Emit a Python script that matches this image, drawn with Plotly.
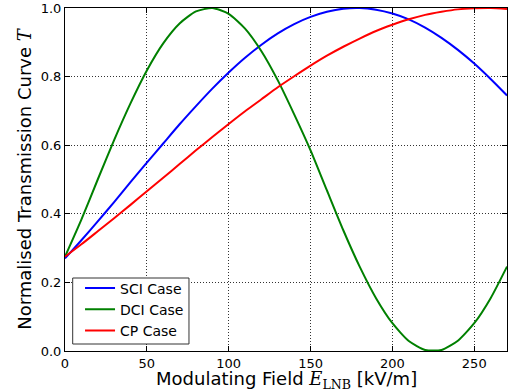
import plotly.graph_objects as go

field = [0, 10, 20, 30, 40, 50, 60, 70, 80, 90, 100, 110, 120, 130, 140,
         150, 160, 170, 180, 190, 200, 210, 220, 230, 240, 250, 260, 270]

sci = [0.270, 0.323, 0.378, 0.434, 0.492, 0.549, 0.605, 0.661, 0.714, 0.765,
       0.812, 0.855, 0.893, 0.926, 0.953, 0.974, 0.989, 0.998, 1.000, 0.995,
       0.984, 0.967, 0.943, 0.913, 0.878, 0.838, 0.793, 0.745]

dci = [0.275, 0.383, 0.500, 0.615, 0.722, 0.818, 0.897, 0.955, 0.990, 1.000,
       0.983, 0.940, 0.874, 0.789, 0.690, 0.585, 0.468, 0.352, 0.246, 0.154,
       0.081, 0.029, 0.003, 0.003, 0.030, 0.081, 0.154, 0.246]

cp = [0.275, 0.311, 0.349, 0.387, 0.426, 0.466, 0.505, 0.545, 0.585, 0.624,
      0.662, 0.699, 0.734, 0.769, 0.801, 0.832, 0.861, 0.887, 0.911, 0.933,
      0.951, 0.967, 0.980, 0.989, 0.996, 0.999, 1.000, 0.997]

series = [("SCI Case", sci, "#0000ff"), ("DCI Case", dci, "#008000"), ("CP Case", cp, "#ff0000")]

x_ticks = [0, 50, 100, 150, 200, 250]
y_ticks = [0.0, 0.2, 0.4, 0.6, 0.8, 1.0]

x_title = ("Modulating Field <span style=\"font-family:'DejaVu Serif';font-style:italic\">E</span>"
           "<sub><span style=\"font-family:'DejaVu Serif'\">LNB</span></sub> [kV/m]")
y_title = ("Normalised Transmission Curve "
           "<span style=\"font-family:'DejaVu Serif';font-style:italic\">T</span>")

fig = go.Figure()
for name, vals, col in series:
    fig.add_trace(go.Scatter(x=field, y=vals, mode="lines", name=name,
                             line=dict(color=col, width=2, shape="spline", smoothing=0.6)))

axis_common = dict(showline=True, linecolor="black", linewidth=1, mirror="allticks",
                   ticks="inside", ticklen=5, tickcolor="black",
                   showgrid=True, gridcolor="#333333", griddash="1px,2px", gridwidth=1,
                   zeroline=False, tickfont=dict(family="DejaVu Sans", size=13, color="black"))

fig.update_xaxes(range=[0, 270], tickvals=x_ticks, **axis_common)
fig.update_yaxes(range=[0, 1.0], tickvals=y_ticks, tickformat=".1f", **axis_common,
                 title=dict(text=y_title,
                            font=dict(family="DejaVu Sans", size=18, color="black"), standoff=4))

fig.add_annotation(text=x_title, xref="paper", yref="paper", x=0.501, y=-0.086,
                   xanchor="center", yanchor="middle", showarrow=False,
                   font=dict(family="DejaVu Sans", size=18, color="black"))

# legend frame (matplotlib-style box)
fig.add_shape(type="rect", xref="paper", yref="paper",
              x0=0.0174, x1=0.2805, y0=0.0204, y1=0.2128,
              line=dict(color="#333333", width=1), fillcolor="white", layer="above")

fig.update_layout(width=508, height=392, paper_bgcolor="white", plot_bgcolor="white",
                  margin=dict(l=65, r=1, t=8, b=41, autoexpand=False),
                  legend=dict(x=0.034, y=0.229, xanchor="left", yanchor="top",
                              bgcolor="rgba(0,0,0,0)", borderwidth=0,
                              font=dict(family="DejaVu Sans", size=14, color="black"),
                              itemwidth=30, tracegroupgap=0))

fig.write_html("out.html", config={"displayModeBar": False},
               post_script="document.body.style.margin='0';document.body.style.overflow='hidden';")
